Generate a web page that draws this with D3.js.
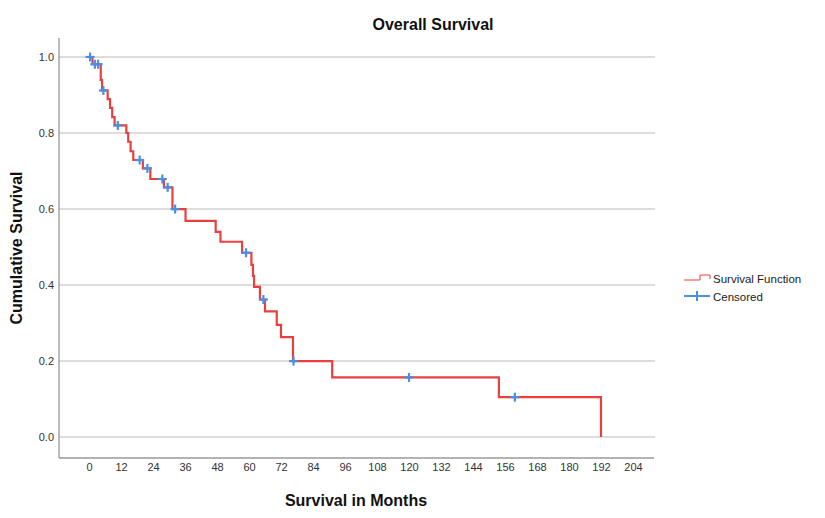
<!DOCTYPE html>
<html>
<head>
<meta charset="utf-8">
<script src="https://cdn.jsdelivr.net/npm/d3@7"></script>
<style>
  html, body { margin: 0; padding: 0; background: #ffffff; }
  svg { display: block; font-family: "Liberation Sans", Arial, sans-serif; }
</style>
</head>
<body>
<svg id="chart" width="825" height="518"></svg>
<script>
// Kaplan-Meier estimate: event times (months) and survival just after each event
const eventTimes = [1.3, 4.4, 4.9, 7.0, 7.9, 8.7, 9.6, 14.0, 14.7, 15.6, 16.6, 20.2, 23.0, 28.1, 31.3,
                    36.2, 47.5, 49.3, 57.4, 60.9, 61.5, 61.9, 64.1, 66.0, 70.4, 72.0, 76.5, 91.2, 153.7, 192.0];
const survival   = [0.981, 0.940, 0.912, 0.889, 0.866, 0.842, 0.820, 0.800, 0.777, 0.752, 0.729, 0.707, 0.679, 0.657, 0.600,
                    0.569, 0.540, 0.514, 0.485, 0.453, 0.424, 0.395, 0.362, 0.331, 0.295, 0.263, 0.200, 0.157, 0.105, 0.000];
// Censored observations (months)
const censorTimes = [0.4, 2.2, 3.4, 5.4, 10.8, 19.0, 21.9, 27.5, 29.5, 32.3, 58.9, 65.4, 76.7, 120.0, 159.7];
// Axis ticks
const xTicks = [0, 12, 24, 36, 48, 60, 72, 84, 96, 108, 120, 132, 144, 156, 168, 180, 192, 204];
const yTicks = [0.0, 0.2, 0.4, 0.6, 0.8, 1.0];

const svg = d3.select("#chart");
const plotL = 59, plotR = 653, plotT = 38, plotB = 458;

const x = d3.scaleLinear().domain([-11.25, 211.5]).range([plotL, plotR]);
const y = d3.scaleLinear().domain([-0.055, 1.05]).range([plotB, plotT]);

const red = "#e8403f", blue = "#4a8fe2";

// Horizontal gridlines
svg.append("g").selectAll("line").data(yTicks).join("line")
  .attr("x1", plotL).attr("x2", plotR + 2)
  .attr("y1", d => y(d)).attr("y2", d => y(d))
  .attr("stroke", "#d2d2d2").attr("stroke-width", 1.5);

// Axes
const yAxis = svg.append("g").attr("transform", `translate(${plotL},0)`)
  .call(d3.axisLeft(y).tickValues(yTicks).tickFormat(d3.format(".1f")).tickSize(0).tickPadding(5));
const xAxis = svg.append("g").attr("transform", `translate(0,${plotB})`)
  .call(d3.axisBottom(x).tickValues(xTicks).tickFormat(d3.format("d")).tickSize(0).tickPadding(5));
[xAxis, yAxis].forEach(g => {
  g.select(".domain").remove();
  g.selectAll("text").attr("fill", "#333").style("font-size", "11px")
    .style("font-family", "'Liberation Sans', Arial, sans-serif");
});
svg.append("line").attr("x1", plotL).attr("x2", plotL).attr("y1", plotT).attr("y2", plotB)
  .attr("stroke", "#8e8e8e").attr("stroke-width", 1.2);
svg.append("line").attr("x1", plotL).attr("x2", plotR + 1).attr("y1", plotB).attr("y2", plotB)
  .attr("stroke", "#9a9a9a").attr("stroke-width", 1.5);

// Step curve
const pts = [[0, 1]];
eventTimes.forEach((t, i) => { pts.push([t, i === 0 ? 1 : survival[i - 1]]); pts.push([t, survival[i]]); });
svg.append("path")
  .attr("d", d3.line().x(d => x(d[0])).y(d => y(d[1]))(pts))
  .attr("fill", "none").attr("stroke", red).attr("stroke-width", 2.2);

// Censor marks sit on the curve
const survAt = t => { const i = d3.bisectRight(eventTimes, t); return i === 0 ? 1 : survival[i - 1]; };
const cg = svg.append("g").attr("stroke", blue).attr("stroke-width", 2.2);
censorTimes.forEach(t => {
  const cx = x(t), cy = y(survAt(t));
  cg.append("line").attr("x1", cx - 4.5).attr("x2", cx + 4.5).attr("y1", cy).attr("y2", cy);
  cg.append("line").attr("x1", cx).attr("x2", cx).attr("y1", cy - 4.5).attr("y2", cy + 4.5);
});

// Titles
svg.append("text").attr("x", 433).attr("y", 30).attr("text-anchor", "middle")
  .style("font-size", "16px").style("font-weight", "bold").attr("fill", "#111").text("Overall Survival");
svg.append("text").attr("x", (plotL + plotR) / 2).attr("y", 506).attr("text-anchor", "middle")
  .style("font-size", "16px").style("font-weight", "bold").attr("fill", "#111").text("Survival in Months");
svg.append("text").attr("transform", `translate(21.5,${(plotT + plotB) / 2}) rotate(-90)`).attr("text-anchor", "middle")
  .style("font-size", "16px").style("font-weight", "bold").attr("fill", "#111").text("Cumulative Survival");

// Legend
const lg = svg.append("g");
lg.append("path").attr("d", "M684,280H700V275H710V279").attr("fill", "none").attr("stroke", red).attr("stroke-width", 1);
lg.append("text").attr("x", 713).attr("y", 283).style("font-size", "11.5px").attr("fill", "#222").text("Survival Function");
lg.append("line").attr("x1", 684).attr("x2", 710).attr("y1", 296).attr("y2", 296).attr("stroke", blue).attr("stroke-width", 2);
lg.append("line").attr("x1", 697).attr("x2", 697).attr("y1", 291).attr("y2", 301).attr("stroke", blue).attr("stroke-width", 2);
lg.append("text").attr("x", 713).attr("y", 300.5).style("font-size", "11.5px").attr("fill", "#222").text("Censored");
</script>
</body>
</html>
